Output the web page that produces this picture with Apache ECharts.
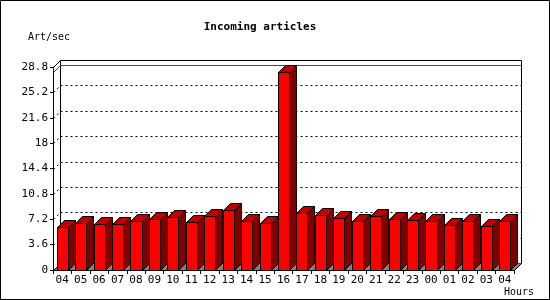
<!DOCTYPE html>
<html><head><meta charset="utf-8">
<script src="https://cdn.jsdelivr.net/npm/echarts@6/dist/echarts.min.js"></script>
<style>html,body{margin:0;padding:0;background:#fff}#c{width:550px;height:300px}</style>
</head><body><div id="c"></div>
<script>
const titleText = 'Incoming articles';
const yAxisName = 'Art/sec';
const xAxisName = 'Hours';
const hours = ['04','05','06','07','08','09','10','11','12','13','14','15','16','17','18','19','20','21','22','23','00','01','02','03','04'];
const articlesPerSec = [6.14,6.62,6.52,6.52,6.9,7.19,7.47,6.76,7.61,8.46,6.9,6.62,28.04,8.04,7.76,7.33,6.9,7.61,7.19,7.05,6.9,6.33,6.9,6.19,6.9];
const yTicks = [0,3.6,7.2,10.8,14.4,18,21.6,25.2,28.8];

const D = 7;
const MONO = "'DejaVu Sans Mono', 'Liberation Mono', monospace";
const px = v => Math.round(v) + 0.5;

function renderFrame(params, api) {
  const cs = params.coordSys;
  const L = px(cs.x), R = px(cs.x + cs.width), T = px(cs.y), B = px(cs.y + cs.height);
  const ch = [];
  const line = (x1, y1, x2, y2, stroke, dash) => ch.push({
    type: 'line', shape: {x1, y1, x2, y2},
    style: {stroke, lineWidth: 1, lineDash: dash || null}
  });
  // back wall
  ch.push({type: 'rect', shape: {x: L + D, y: T - D, width: R - L, height: B - T},
    style: {fill: '#ffffff', stroke: '#000000', lineWidth: 1}});
  // grid lines on the back wall and diagonal ticks on the left wall
  yTicks.slice(1, -1).forEach(v => {
    const y = px(api.coord([0, v])[1]);
    line(L + D, y - D, R + D, y - D, '#000000', [2, 3]);
    line(L, y, L + D, y - D, '#000000', [2, 3]);
  });
  // maximum line
  const maxV = Math.max.apply(null, articlesPerSec);
  const ym = px(api.coord([0, maxV])[1]);
  line(L + D, ym - D, R + D, ym - D, '#ff0000');
  line(L, ym, L + D, ym - D, '#ff0000');
  // floor
  ch.push({type: 'polygon', shape: {points: [[L, B], [R, B], [R + D, B - D], [L + D, B - D]]},
    style: {fill: '#808080', stroke: null}});
  // edges
  line(L, T, L + D, T - D, '#000000');
  line(L, B, L + D, B - D, '#000000');
  line(R, B, R + D, B - D, '#000000');
  return {type: 'group', children: ch};
}

function renderBar(params, api) {
  const i = api.value(0), v = api.value(1);
  const top = api.coord([i, v]);
  const base = api.coord([i, 0]);
  const bw = api.size([1, 0])[0];
  const half = bw * 0.3;
  const xl = px(top[0] - half), xr = px(top[0] + half);
  const yt = px(top[1]), yb = px(base[1]);
  const st = {stroke: '#000000', lineWidth: 1};
  return {type: 'group', children: [
    {type: 'polygon', shape: {points: [[xl, yb], [xr, yb], [xr, yt], [xl, yt]]},
      style: Object.assign({fill: '#ff0000'}, st)},
    {type: 'polygon', shape: {points: [[xr, yb], [xr + D, yb - D], [xr + D, yt - D], [xr, yt]]},
      style: Object.assign({fill: '#800000'}, st)},
    {type: 'polygon', shape: {points: [[xl, yt], [xl + D, yt - D], [xr + D, yt - D], [xr, yt]]},
      style: Object.assign({fill: '#c00000'}, st)}
  ]};
}

const chart = echarts.init(document.getElementById('c'), null, {renderer: 'canvas'});
chart.setOption({
  animation: false,
  backgroundColor: '#ffffff',
  grid: {left: 53, right: 36, top: 67, bottom: 30, containLabel: false},
  xAxis: {
    type: 'category', data: hours, z: 5,
    axisLine: {lineStyle: {color: '#000000', width: 1}},
    axisTick: {show: true, length: 4, lineStyle: {color: '#000000'}},
    axisLabel: {color: '#000000', fontFamily: MONO, fontSize: 11, margin: 5, interval: 0}
  },
  yAxis: {
    type: 'value', min: 0, max: 28.8, interval: 3.6, z: 5,
    axisLine: {show: true, lineStyle: {color: '#000000', width: 1}},
    axisTick: {show: true, length: 3, lineStyle: {color: '#000000'}},
    axisLabel: {color: '#000000', fontFamily: MONO, fontSize: 11, margin: 5,
      formatter: v => String(Math.round(v * 10) / 10)},
    splitLine: {show: false}
  },
  graphic: [
    {type: 'rect', shape: {x: 0.5, y: 0.5, width: 549, height: 299},
      style: {fill: null, stroke: '#000000', lineWidth: 1}, z: 100},
    {type: 'text', x: 260, y: 27, style: {text: titleText, font: 'bold 11px ' + MONO,
      fill: '#000000', textAlign: 'center', textVerticalAlign: 'middle'}},
    {type: 'text', x: 28, y: 37, style: {text: yAxisName, font: '10px ' + MONO,
      fill: '#000000', textAlign: 'left', textVerticalAlign: 'middle'}},
    {type: 'text', x: 534, y: 292, style: {text: xAxisName, font: '10px ' + MONO,
      fill: '#000000', textAlign: 'right', textVerticalAlign: 'middle'}}
  ],
  series: [
    {type: 'custom', z: 1, clip: false, silent: true, renderItem: renderFrame,
      data: [[0, 0]], encode: {x: 0, y: 1}},
    {type: 'custom', z: 2, clip: false, renderItem: renderBar,
      data: hours.map((h, i) => [i, articlesPerSec[i]]), encode: {x: 0, y: 1}}
  ]
});
</script></body></html>
